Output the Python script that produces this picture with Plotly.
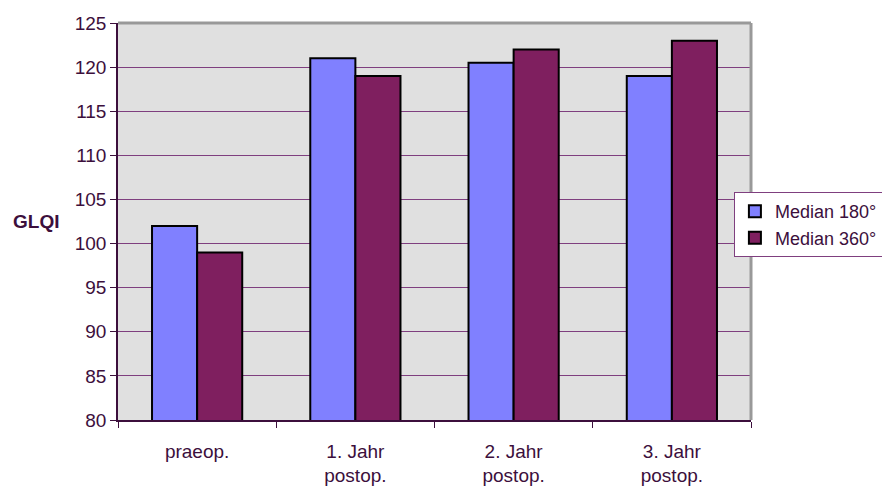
import plotly.graph_objects as go

categories = ["praeop.", "1. Jahr<br>postop.", "2. Jahr<br>postop.", "3. Jahr<br>postop."]
median_180 = [102, 121, 120.5, 119]
median_360 = [99, 119, 122, 123]
series_names = ["Median 180°", "Median 360°"]
y_ticks = [80, 85, 90, 95, 100, 105, 110, 115, 120, 125]

TXT = "#3c0f3c"
FS = 19
fig = go.Figure()
fig.add_trace(go.Bar(x=categories, y=median_180, name=series_names[0],
                     marker=dict(color="#8080ff", line=dict(color="black", width=2))))
fig.add_trace(go.Bar(x=categories, y=median_360, name=series_names[1],
                     marker=dict(color="#7f1f5f", line=dict(color="black", width=2))))

fig.update_layout(
    width=882, height=490,
    margin=dict(l=118, r=131, t=23, b=70, autoexpand=False),
    paper_bgcolor="white", plot_bgcolor="#e0e0e0",
    barmode="group", bargap=0.43, bargroupgap=0,
    font=dict(family="Liberation Sans, Arial, sans-serif", size=FS, color=TXT),
    showlegend=True,
    legend=dict(x=0.973, y=0.574, xanchor="left", yanchor="top",
                bgcolor="white", bordercolor="#7f3f7f", borderwidth=1,
                font=dict(size=18, color=TXT), tracegroupgap=0, itemwidth=30),
    xaxis=dict(showgrid=False, showline=True, linecolor=TXT, linewidth=1.5,
               ticks="outside", ticklen=6, tickcolor=TXT, tickson="boundaries",
               ticklabelstandoff=13,
               tickfont=dict(size=FS, color=TXT)),
    yaxis=dict(range=[80, 125], tickvals=y_ticks, showgrid=True, gridcolor="#7f3f7f",
               gridwidth=1, showline=True, linecolor=TXT, linewidth=1.5,
               ticks="outside", ticklen=6, tickcolor=TXT, zeroline=False,
               tickfont=dict(size=FS, color=TXT)),
    annotations=[dict(text="<b>GLQI</b>", xref="paper", yref="paper",
                      x=-0.13, y=0.5, xanchor="center", yanchor="middle",
                      showarrow=False, font=dict(size=FS, color=TXT))],
    shapes=[
        dict(type="line", xref="paper", yref="paper", x0=0, x1=1, y0=1, y1=1,
             line=dict(color="#999999", width=3)),
        dict(type="line", xref="paper", yref="paper", x0=1, x1=1, y0=0, y1=1,
             line=dict(color="#999999", width=3)),
    ],
)
fig.write_html("out.html")
